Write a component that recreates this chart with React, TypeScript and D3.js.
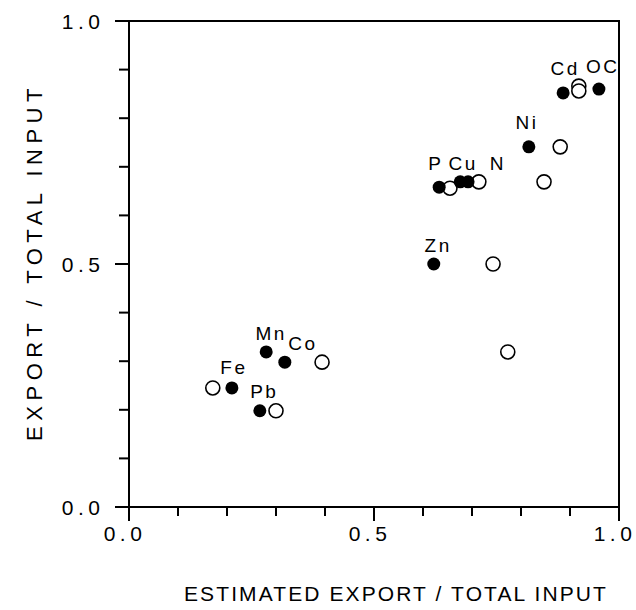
import React from "react";
import * as d3 from "d3";

// filled symbols: measured export / total input
const filledX = [0.959, 0.886, 0.816, 0.633, 0.676, 0.692, 0.622, 0.28, 0.318, 0.21, 0.267];
const filledY = [0.86, 0.852, 0.741, 0.658, 0.669, 0.669, 0.5, 0.319, 0.298, 0.245, 0.198];

// open symbols
const openX = [0.918, 0.918, 0.88, 0.655, 0.714, 0.847, 0.743, 0.773, 0.394, 0.171, 0.3];
const openY = [0.866, 0.856, 0.741, 0.656, 0.669, 0.669, 0.5, 0.319, 0.298, 0.245, 0.198];

// element labels, anchored in data units
const labelText = ["OC", "Cd", "Ni", "P", "Cu", "N", "Zn", "Mn", "Co", "Fe", "Pb"];
const labelX = [0.965, 0.888, 0.81, 0.624, 0.68, 0.751, 0.629, 0.288, 0.353, 0.212, 0.274];
const labelY = [0.893, 0.889, 0.778, 0.693, 0.693, 0.693, 0.524, 0.344, 0.323, 0.274, 0.224];

const majorTicks = [0, 0.5, 1];
const minorTicks = [0.1, 0.2, 0.3, 0.4, 0.6, 0.7, 0.8, 0.9];

const W = 636;
const H = 610;
const m = { left: 129, right: 17, top: 21, bottom: 103 };
const font = "'Liberation Sans', Arial, sans-serif";

export default function App() {
  const x = d3.scaleLinear().domain([0, 1]).range([m.left, W - m.right]);
  const y = d3.scaleLinear().domain([0, 1]).range([H - m.bottom, m.top]);
  const fmt = d3.format(".1f");
  const x0 = x(0), x1 = x(1), y0 = y(0), y1 = y(1);

  return (
    <svg width={W} height={H} style={{ position: "absolute", left: 0, top: 0, background: "#fff" }}>
      <g stroke="#000" strokeWidth={2} fill="none">
        <rect x={x0} y={y1} width={x1 - x0} height={y0 - y1} />
        {majorTicks.map((t) => (
          <g key={"M" + t}>
            <line x1={x(t)} x2={x(t)} y1={y0} y2={y0 + 14} />
            <line x1={x0 - 14} x2={x0} y1={y(t)} y2={y(t)} />
          </g>
        ))}
        {minorTicks.map((t) => (
          <g key={"m" + t}>
            <line x1={x(t)} x2={x(t)} y1={y0} y2={y0 + 9} />
            <line x1={x0 - 10} x2={x0} y1={y(t)} y2={y(t)} />
          </g>
        ))}
      </g>

      <g fontFamily={font} fontSize={21} fill="#000" letterSpacing={4.5}>
        {majorTicks.map((t) => (
          <text key={"xl" + t} x={x(t) - 4} y={y0 + 34} textAnchor="middle">
            {fmt(t)}
          </text>
        ))}
        {majorTicks.map((t) => (
          <text key={"yl" + t} x={x0 - 24.5} y={y(t) + 8} textAnchor="end">
            {fmt(t)}
          </text>
        ))}
      </g>

      <text x={396} y={601} fontFamily={font} fontSize={21} textAnchor="middle" letterSpacing={2.1}>
        ESTIMATED EXPORT / TOTAL INPUT
      </text>
      <text
        transform={`translate(42,${(y0 + y1) / 2 - 2}) rotate(-90)`}
        fontFamily={font}
        fontSize={22}
        textAnchor="middle"
        letterSpacing={5.5}
      >
        EXPORT / TOTAL INPUT
      </text>

      <g fill="#fff" stroke="#000" strokeWidth={1.6}>
        {openX.map((v, i) => (
          <circle key={"o" + i} cx={x(v)} cy={y(openY[i])} r={7} />
        ))}
      </g>
      <g fill="#000">
        {filledX.map((v, i) => (
          <circle key={"f" + i} cx={x(v)} cy={y(filledY[i])} r={6.5} />
        ))}
      </g>

      <g fontFamily={font} fontSize={19} fill="#000" textAnchor="middle" letterSpacing={2.5}>
        {labelText.map((s, i) => (
          <text key={s} x={x(labelX[i]) + 1} y={y(labelY[i])}>
            {s}
          </text>
        ))}
      </g>
    </svg>
  );
}
